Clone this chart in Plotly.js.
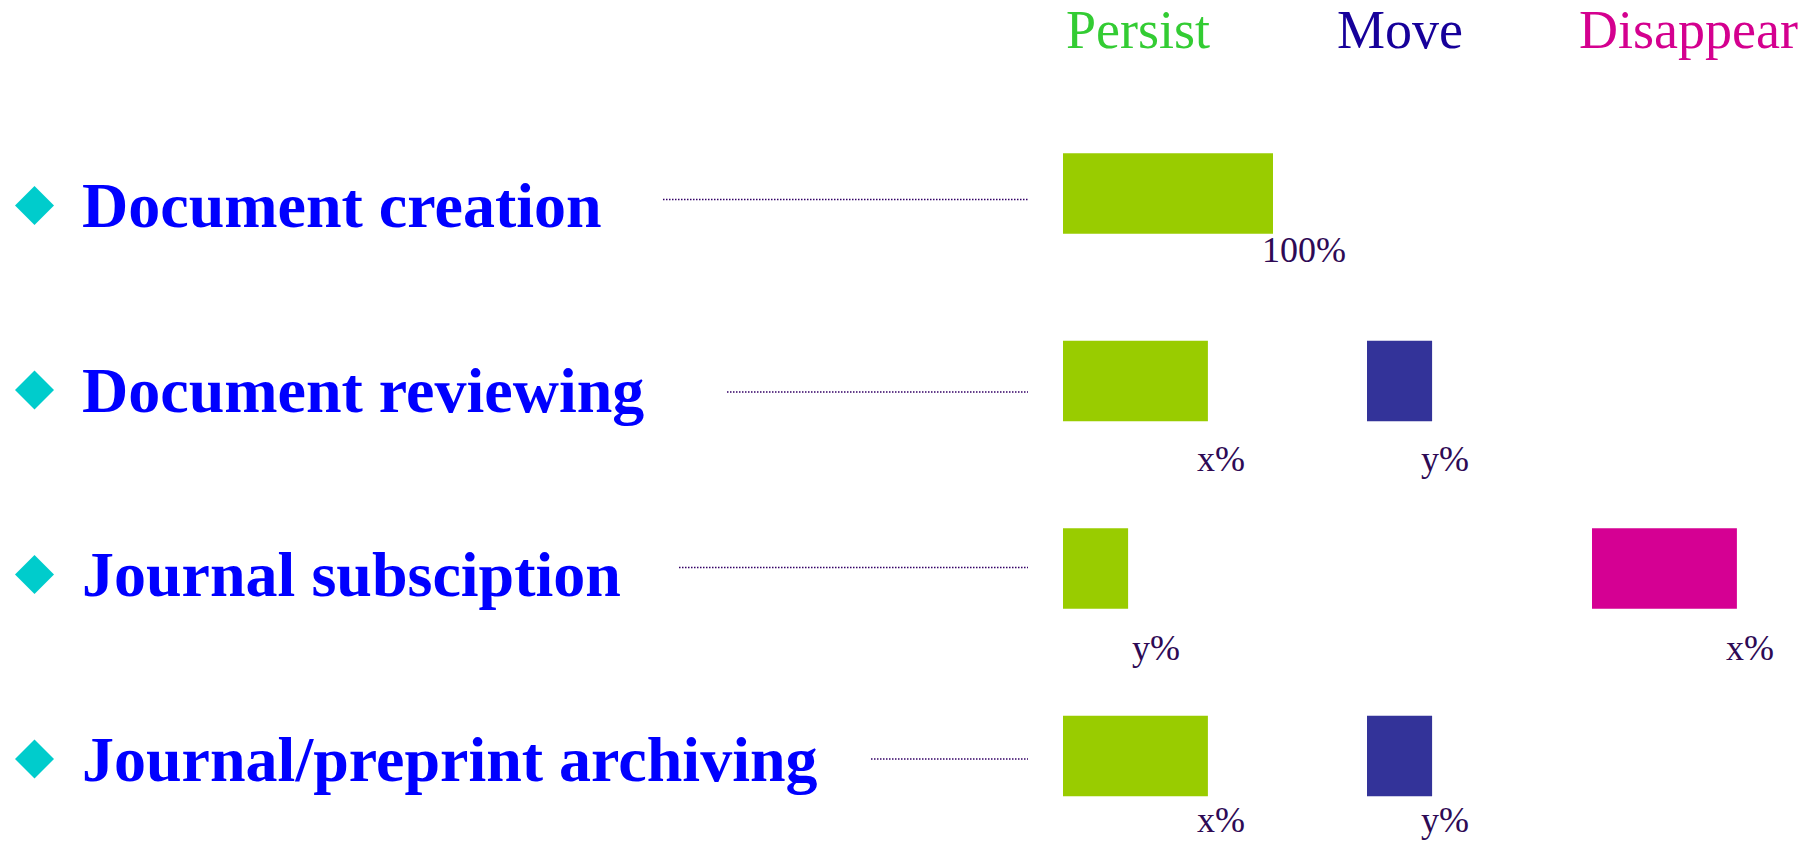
<!DOCTYPE html>
<html>
<head>
<meta charset="utf-8">
<script src="https://cdn.plot.ly/plotly-3.0.1.min.js"></script>
<style>
  html, body { margin: 0; padding: 0; background: #ffffff; }
  #chart { width: 1814px; height: 842px; }
</style>
</head>
<body>
<div id="chart"></div>
<script>
// ---------------- data ----------------
const activities = ['Document creation', 'Document reviewing', 'Journal subsciption', 'Journal/preprint archiving'];
const columnTitles = ['Persist', 'Move', 'Disappear'];
const persistValues = [100, 69, 31, 69];
const moveValues = [null, 31, null, 31];
const disappearValues = [null, null, 69, null];
const persistLabels = ['100%', 'x%', 'y%', 'x%'];
const moveLabels = ['', 'y%', '', 'y%'];
const disappearLabels = ['', '', 'x%', ''];

// ---------------- layout helpers ----------------
const W = 1814, H = 842;
const px = v => v / W;           // horizontal pixel -> paper
const py = v => 1 - v / H;       // vertical pixel -> paper

const serif = 'Liberation Serif, Times New Roman, serif';
const colors = {
  persistBar: '#99CC00', moveBar: '#333399', disappearBar: '#D50093',
  persistTitle: '#33CC33', moveTitle: '#16009A', disappearTitle: '#D4008F',
  label: '#0000FF', diamond: '#00CCCC', value: '#2E0A55', leader: '#330066'
};

const series = [
  {values: persistValues, labels: persistLabels, color: colors.persistBar, xa: 'x', name: columnTitles[0]},
  {values: moveValues, labels: moveLabels, color: colors.moveBar, xa: 'x2', name: columnTitles[1]},
  {values: disappearValues, labels: disappearLabels, color: colors.disappearBar, xa: 'x3', name: columnTitles[2]}
];

const traces = series.map(s => ({
  type: 'bar', orientation: 'h', name: s.name,
  x: s.values, y: activities,
  xaxis: s.xa, yaxis: 'y2',
  width: 0.43,
  marker: {color: s.color, line: {width: 0}},
  hoverinfo: 'skip', showlegend: false
}));

traces.push({
  type: 'scatter', mode: 'markers',
  x: activities.map(() => 0), y: activities,
  xaxis: 'x4', yaxis: 'y',
  marker: {symbol: 'diamond', size: 30, color: colors.diamond, line: {width: 0}},
  hoverinfo: 'skip', showlegend: false
});

const annotations = [];
// column titles
const titleCenters = [1138, 1400, 1688];
const titleColors = [colors.persistTitle, colors.moveTitle, colors.disappearTitle];
columnTitles.forEach((t, i) => annotations.push({
  xref: 'paper', yref: 'paper', x: px(titleCenters[i]), y: py(30),
  xanchor: 'center', yanchor: 'middle', showarrow: false, text: t,
  font: {family: serif, size: 54, color: titleColors[i]}
}));
// activity labels
activities.forEach(a => annotations.push({
  xref: 'paper', yref: 'y', x: px(80), y: a,
  xanchor: 'left', yanchor: 'middle', showarrow: false, text: a,
  font: {family: serif, size: 64, color: colors.label, weight: 'bold'}
}));
// value labels under bars (per-row vertical drop below bar centre, in px)
const labelDrop = [34, 56, 57, 42];
const labelXShift = {'x': [-13, -13, 2, -13], 'x2': [-13, -13, -13, -13], 'x3': [-13, -13, -13, -13]};
series.forEach(s => s.values.forEach((v, i) => {
  if (v === null || !s.labels[i]) return;
  annotations.push({
    xref: s.xa, yref: 'y2', x: v, y: activities[i],
    xanchor: 'left', yanchor: 'top', xshift: labelXShift[s.xa][i], yshift: -labelDrop[i],
    showarrow: false, text: s.labels[i],
    font: {family: serif, size: 36, color: colors.value}
  });
}));

// dotted leader lines
const leaderStarts = [663, 727, 679, 871];
const leaderOffsets = [-6, 2, -7, 0];   // px relative to row centre
const leaderEnd = 1028;
const rowPx = 184.5;
const shapes = activities.map((a, i) => ({
  type: 'line', xref: 'paper', yref: 'y',
  x0: px(leaderStarts[i]), x1: px(leaderEnd),
  y0: i + leaderOffsets[i] / rowPx, y1: i + leaderOffsets[i] / rowPx,
  line: {color: colors.leader, width: 1.5, dash: '1.5px,1.5px'}
}));

const hidden = {visible: false, fixedrange: true, showgrid: false, zeroline: false};
const layout = {
  width: W, height: H,
  margin: {l: 0, r: 0, t: 0, b: 0},
  paper_bgcolor: '#ffffff', plot_bgcolor: 'rgba(0,0,0,0)',
  showlegend: false, barmode: 'overlay',
  xaxis:  Object.assign({}, hidden, {domain: [px(1063), px(1273)], range: [0, 100], anchor: 'y2'}),
  xaxis2: Object.assign({}, hidden, {domain: [px(1367), px(1577)], range: [0, 100], anchor: 'y2'}),
  xaxis3: Object.assign({}, hidden, {domain: [px(1592), px(1802)], range: [0, 100], anchor: 'y2'}),
  xaxis4: Object.assign({}, hidden, {domain: [0, 0.5], range: [-34.5, 872.5], anchor: 'y'}),
  yaxis:  Object.assign({}, hidden, {type: 'category', categoryorder: 'array', categoryarray: activities,
            range: [3.4, -0.5], domain: [py(832.8), py(113.25)], anchor: 'x4'}),
  yaxis2: Object.assign({}, hidden, {type: 'category', categoryorder: 'array', categoryarray: activities,
            range: [3.4, -0.5], domain: [py(831), py(99.75)], anchor: 'x'}),
  annotations: annotations,
  shapes: shapes
};

Plotly.newPlot('chart', traces, layout, {displayModeBar: false, staticPlot: true});
</script>
</body>
</html>
